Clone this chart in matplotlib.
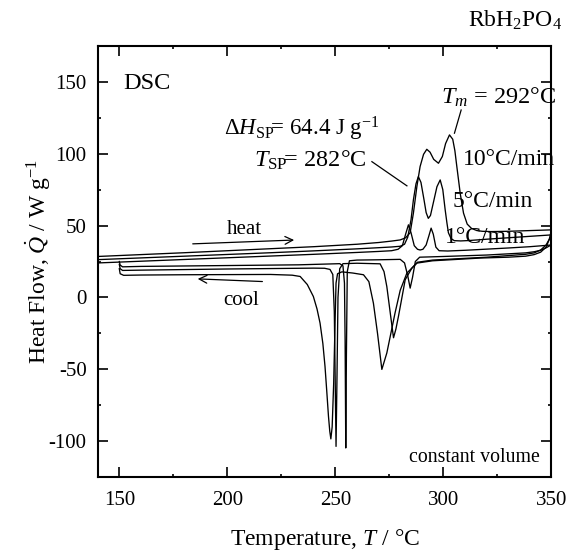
import matplotlib
matplotlib.use("Agg")
import matplotlib.pyplot as plt
from matplotlib.ticker import MultipleLocator

plt.rcParams["font.family"] = ["Liberation Serif", "DejaVu Serif"]
plt.rcParams["mathtext.fontset"] = "custom"
plt.rcParams["mathtext.rm"] = "Liberation Serif"
plt.rcParams["mathtext.it"] = "Liberation Serif:italic"
plt.rcParams["mathtext.bf"] = "Liberation Serif:bold"
plt.rcParams["axes.unicode_minus"] = False

# ---- heating runs (temperature in degC, heat flow in W/g) ----
heat1_T = [140, 160, 180, 200, 220, 240, 260, 270, 276, 279, 281, 282.5, 283.8, 285,
           286.5, 288, 289.2, 290.5, 292, 293.3, 294.3, 295.3, 296.5, 298, 302, 310,
           320, 330, 340, 350]
heat1_Q = [24.0, 25.2, 26.4, 27.6, 28.8, 30.0, 31.3, 32.0, 32.5, 33.5, 36, 44, 50.5, 45,
           36, 33.5, 33, 33.5, 36.5, 43, 48.2, 44, 35, 32.5, 32.3, 32.8,
           33.6, 34.4, 35.3, 36.5]

heat5_T = [140, 160, 180, 200, 220, 240, 260, 270, 276, 280, 282, 283.5, 285, 286.1,
           287.3, 288.4, 289.6, 291, 292, 293, 294, 295.5, 297, 298.5, 299.7, 300.8,
           301.6, 302.3, 303.5, 305, 308, 312, 320, 330, 340, 350]
heat5_Q = [26.3, 27.5, 28.7, 29.9, 31.1, 32.4, 33.8, 34.6, 35.1, 35.6, 37, 42, 54, 67.8,
           79, 84, 80, 68, 59, 55, 57, 67, 77, 81.7, 75, 61,
           52, 45, 41, 39.5, 39.3, 39.6, 40.5, 41.5, 42.5, 43.5]

heat10_T = [140, 160, 180, 200, 220, 240, 260, 270, 276, 280, 282.5, 284.6, 286.1,
            287.7, 289.2, 290.8, 292.3, 293.8, 295.5, 297.7, 299.5, 301, 302.8, 304.3,
            305.3, 306.2, 307.8, 309.3, 311, 313, 315.5, 318, 322, 330, 340, 350]
heat10_Q = [28.5, 29.8, 31.1, 32.5, 33.9, 35.3, 37.0, 38.2, 39.2, 40, 41.5, 45, 58.6,
            77, 91, 99.5, 103, 101, 96, 93.3, 98, 107, 113, 110,
            102, 91, 72, 58.6, 51, 48, 46.5, 46, 45.8, 46, 46.5, 47]

# ---- cooling runs ----
cool1_T = [150, 150.4, 151.5, 160, 180, 200, 220, 233, 245, 252, 253.5, 254.2, 254.5,
           254.8, 255.1, 255.5, 256.5, 260, 270, 280, 282, 283.5, 284.6, 285.7, 287,
           289, 300, 320, 338, 342, 345, 347.5, 349, 350]
cool1_Q = [25, 22.5, 21.3, 21.6, 21.9, 22.2, 22.5, 22.7, 23.2, 23.5, 22, 10, -30,
           -104.6, -40, 18, 25.5, 26, 26.2, 26.5, 24, 15, 6.5, 14, 25,
           28, 28.5, 29.5, 31, 31.8, 32.8, 34.5, 35.8, 36.5]

cool5_T = [150, 150.4, 151.5, 160, 180, 200, 220, 240, 245, 247.5, 248.8, 249.5,
           250.3, 250.7, 251.2, 252, 253.5, 260, 270.7, 272.5, 273.8, 275.5, 276.9,
           278, 279.2, 280.8, 282.3, 285.4, 288, 295, 320, 338, 342, 345, 347.5,
           349, 350]
cool5_Q = [23, 20, 18.8, 19.0, 19.4, 19.8, 20.1, 20.4, 20.3, 19.5, 16, -10,
           -103.5, -60, 0, 20, 23.5, 23.8, 23.4, 18, 7.6, -12, -28,
           -22, -13, 0, 12.3, 20.4, 24.5, 26, 28, 30, 31, 33, 36.5,
           40.5, 43.5]

cool10_T = [150, 150.4, 152, 160, 180, 200, 220, 230, 233.7, 237, 239.8, 241.5,
            242.9, 244.2, 245.2, 246, 246.8, 247.4, 247.9, 248.5, 249.2, 249.8,
            250.3, 251, 253, 258, 263, 265.5, 267.6, 269.5, 271.5, 273.8, 275.8,
            277.6, 280, 283.1, 287.7, 295, 317, 330, 338, 342, 345, 347.5, 349, 350]
cool10_Q = [20, 16.5, 15.4, 15.6, 15.8, 15.9, 16.0, 15.5, 14.6, 9, 0.7, -8,
            -17.8, -32, -48, -65, -82.6, -93, -98.3, -90, -60, -20,
            10, 16.5, 17.8, 17, 15.8, 11, -4, -25, -50, -38.6, -24,
            -10.8, 5, 17, 23.9, 25.5, 27.4, 28, 28.7, 29.8, 31.5, 35, 40.5, 47]

runs = [(heat1_T, heat1_Q), (heat5_T, heat5_Q), (heat10_T, heat10_Q),
        (cool1_T, cool1_Q), (cool5_T, cool5_Q), (cool10_T, cool10_Q)]

fig = plt.figure(figsize=(5.69, 5.52), dpi=100)
ax = fig.add_axes([0.1717, 0.1353, 0.7975, 0.7819])

for T, Q in runs:
    ax.plot(T, Q, color="black", lw=0.95)

ax.set_xlim(140, 350)
ax.set_ylim(-125, 175)
ax.xaxis.set_major_locator(MultipleLocator(50))
ax.xaxis.set_minor_locator(MultipleLocator(25))
ax.yaxis.set_major_locator(MultipleLocator(50))
ax.yaxis.set_minor_locator(MultipleLocator(25))
ax.tick_params(which="both", direction="in", top=True, right=True, width=1.2,
               labelsize=15)
ax.tick_params(axis="x", pad=10)
ax.tick_params(axis="y", pad=8)
ax.tick_params(which="major", length=7)
ax.tick_params(which="minor", length=2.5)
for s in ax.spines.values():
    s.set_linewidth(1.5)

ax.set_xlabel(r"Temperature, $T$ / °C", fontsize=17, labelpad=12)
ax.set_ylabel(r"Heat Flow, $\dot{Q}$ / W g$^{-1}$", fontsize=17)
ax.yaxis.set_label_coords(-0.099, 0.5)

ax.text(151.7, 149, "DSC", fontsize=17.5, ha="left", va="center")
ax.text(234.6, 117, r"Δ$H_{\mathrm{SP}}\!$= 64.4 J g$^{-1}$", fontsize=16.5,
        ha="center", va="center")
ax.text(238.4, 95.5, r"$T_{\mathrm{SP}}\!$= 282°C", fontsize=17.5, ha="center",
        va="center")
ax.text(325.3, 139, r"$T_m$ = 292°C", fontsize=17.5, ha="center", va="center")
ax.plot([266.9, 283.1], [94.4, 77.6], color="black", lw=0.9)
ax.plot([308.2, 305.1], [130.3, 114.2], color="black", lw=0.9)

ax.text(308.8, 95.6, "10°C/min", fontsize=17, ha="left", va="center")
ax.text(304.0, 66.5, "5°C/min", fontsize=17, ha="left", va="center")
ax.text(300.8, 41.4, "1°C/min", fontsize=17, ha="left", va="center")

ax.text(207.8, 47, "heat", fontsize=15, ha="center", va="center")
ax.annotate("", xy=(232.2, 40), xytext=(182.7, 37.2),
            arrowprops=dict(arrowstyle="->", lw=0.9, color="black",
                            mutation_scale=14))
ax.text(206.3, -2.3, "cool", fontsize=15, ha="center", va="center")
ax.annotate("", xy=(185, 13), xytext=(217.5, 11),
            arrowprops=dict(arrowstyle="->", lw=0.9, color="black",
                            mutation_scale=14))

ax.text(344.7, -111.5, "constant volume", fontsize=14.3, ha="right", va="center")
fig.text(562 / 569, 1 - 20 / 552, r"RbH$_2$PO$_4$", fontsize=17, ha="right",
         va="center")

fig.savefig("out.png", dpi=100)
